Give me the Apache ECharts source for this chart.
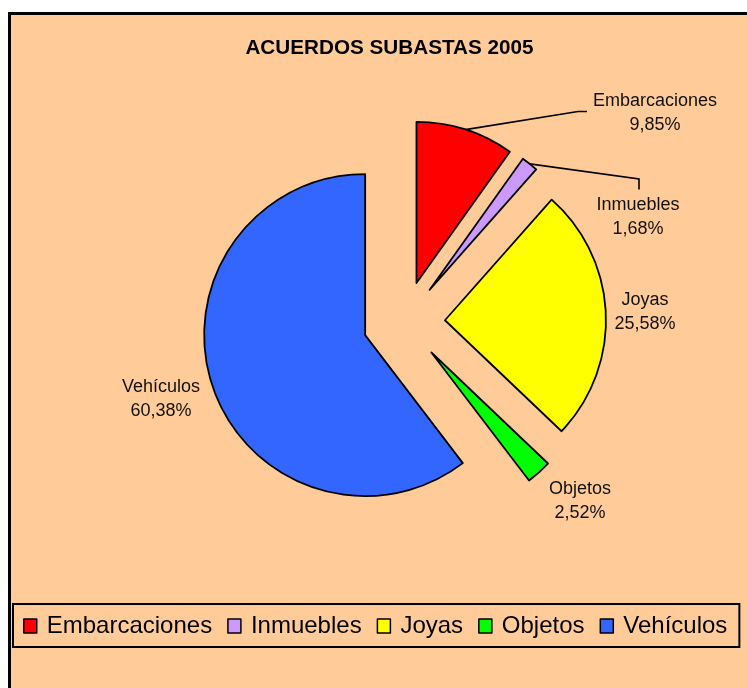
<!DOCTYPE html>
<html><head><meta charset="utf-8">
<script src="https://cdn.jsdelivr.net/npm/echarts@6/dist/echarts.min.js"></script>
<style>html,body{margin:0;padding:0;background:#fff;} #c{width:747px;height:688px;}</style>
</head><body><div id="c"></div>
<script>
// ---- data ----
const categories = ['Embarcaciones', 'Inmuebles', 'Joyas', 'Objetos', 'Vehículos'];
const percentages = [9.85, 1.68, 25.58, 2.52, 60.38];
const chartTitle = 'ACUERDOS SUBASTAS 2005';

// ---- styles / layout ----
const colors = ['#FF0000', '#CC99FF', '#FFFF00', '#00FF00', '#3366FF'];
const FONT = '"Liberation Sans", Arial, sans-serif';
const CENTER = [404, 322];
const RADIUS = 161;
const EXPLODE = 41;
// label text centres and leader-line elbows (text placement only)
const labelPlaces = [
  { x: 655, y: 113, elbow: [[578, 111.5], [587, 111.5]] },
  { x: 638, y: 217.5, elbow: [[639, 179], [639, 189.5]] },
  { x: 645, y: 312 },
  { x: 580, y: 501.5 },
  { x: 161, y: 399 }
];

// mid angle of each slice (degrees clockwise from 12 o'clock), from the data
const total = percentages.reduce((a, b) => a + b, 0);
const midAngles = [];
{ let acc = 0; percentages.forEach(v => { midAngles.push((acc + v / 2) / total * 360); acc += v; }); }
function arcMid(i) {
  const a = midAngles[i] * Math.PI / 180, r = RADIUS + EXPLODE;
  return [CENTER[0] + r * Math.sin(a), CENTER[1] - r * Math.cos(a)];
}

const chart = echarts.init(document.getElementById('c'), null, { renderer: 'canvas' });

const sliceData = categories.map((name, i) => ({
  name: name, value: percentages[i], selected: true, itemStyle: { color: colors[i] }
}));
const labelData = categories.map((name, i) => ({
  name: name, value: percentages[i],
  labelLine: { show: !!labelPlaces[i].elbow }
}));

chart.setOption({
  animation: false,
  backgroundColor: 'transparent',
  color: colors,
  graphic: [
    { type: 'rect', z: -10, silent: true,
      shape: { x: 9.5, y: 13.5, width: 900, height: 900 },
      style: { fill: '#FFCC99', stroke: '#000', lineWidth: 3 } },
    { type: 'text', z: 10, silent: true, x: 389.5, y: 48.5,
      style: { text: chartTitle, fill: '#000', font: 'bold 20.7px ' + FONT,
               align: 'center', verticalAlign: 'middle' } }
  ],
  legend: {
    show: true,
    orient: 'horizontal',
    left: 13, top: 604,
    padding: [10, 12, 9, 10],
    borderColor: '#000', borderWidth: 2,
    backgroundColor: 'transparent',
    itemWidth: 13, itemHeight: 14, itemGap: 15,
    icon: 'rect',
    itemStyle: { borderColor: '#000', borderWidth: 1.5 },
    textStyle: { fontFamily: FONT, fontSize: 24, color: '#000', lineHeight: 24, padding: [0, 0, 0, 5] },
    selectedMode: false,
    data: categories.map((n, i) => ({ name: n, itemStyle: { color: colors[i] } }))
  },
  series: [{
    type: 'pie',
    name: 'slices',
    center: CENTER,
    radius: [0, RADIUS],
    startAngle: 90,
    clockwise: true,
    selectedMode: 'multiple',
    selectedOffset: EXPLODE,
    silent: true,
    itemStyle: { borderColor: '#000', borderWidth: 1.8 },
    select: { itemStyle: { borderColor: '#000', borderWidth: 1.8 } },
    emphasis: { disabled: true },
    label: { show: false },
    labelLine: { show: false },
    data: sliceData
  }, {
    type: 'pie',
    name: 'labels',
    z: 5,
    center: CENTER,
    radius: [0, RADIUS],
    startAngle: 90,
    clockwise: true,
    selectedMode: false,
    avoidLabelOverlap: false,
    silent: true,
    itemStyle: { color: 'rgba(0,0,0,0)', borderWidth: 0 },
    emphasis: { disabled: true },
    label: {
      show: true,
      position: 'outside',
      fontFamily: FONT, fontSize: 18, color: '#111', lineHeight: 24,
      align: 'center',
      formatter: p => p.name + '\n' + p.value.toFixed(2).replace('.', ',') + '%'
    },
    labelLine: { show: true, lineStyle: { color: '#000', width: 1.6 }, length: 10, length2: 10 },
    labelLayout: function (params) {
      const i = params.dataIndex;
      const lp = labelPlaces[i];
      const out = { x: lp.x, y: lp.y, align: 'center', verticalAlign: 'middle', hideOverlap: false };
      if (lp.elbow) out.labelLinePoints = [arcMid(i)].concat(lp.elbow);
      return out;
    },
    data: labelData
  }]
});
</script></body></html>
